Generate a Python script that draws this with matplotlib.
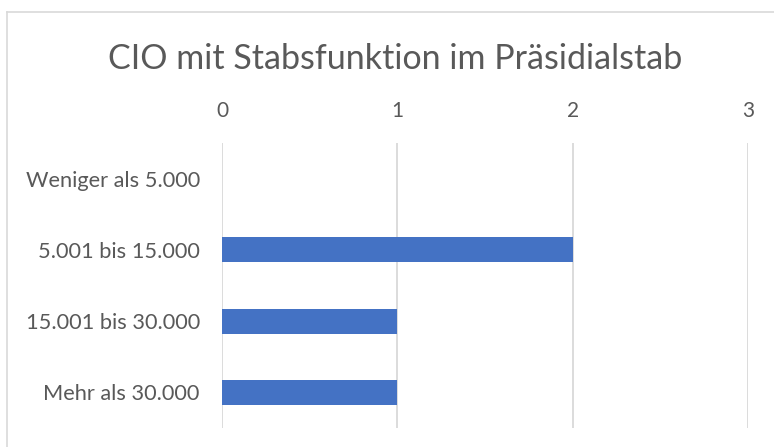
import matplotlib.pyplot as plt
from matplotlib.lines import Line2D

categories = ["Weniger als 5.000", "5.001 bis 15.000", "15.001 bis 30.000", "Mehr als 30.000"]
values = [0, 2, 1, 1]
xticks = [0, 1, 2, 3]

plt.rcParams["font.family"] = ["Lato", "DejaVu Sans"]
text_color = "#595959"
grid_color = "#D9D9D9"

fig = plt.figure(figsize=(7.74, 4.47), dpi=100)
ax = fig.add_axes([222 / 774, 1 - 428 / 447, 526 / 774, 285 / 447])

ypos = list(range(len(categories)))
ax.barh(ypos, values, height=0.35, color="#4472C4", linewidth=0, zorder=3)

ax.set_xlim(0, 3)
ax.set_ylim(len(categories) - 0.5, -0.5)
ax.set_xticks(xticks)
ax.set_xticklabels([str(t) for t in xticks])
ax.set_yticks(ypos)
ax.set_yticklabels(categories)
ax.xaxis.tick_top()
ax.tick_params(axis="x", length=0, pad=16, labelsize=15, labelcolor=text_color)
ax.tick_params(axis="y", length=0, pad=16, labelsize=15.7, labelcolor=text_color)
ax.grid(axis="x", color=grid_color, linewidth=1.3, zorder=0)
for s in ax.spines.values():
    s.set_visible(False)

fig.text(0.511, 1 - 59 / 447, "CIO mit Stabsfunktion im Präsidialstab",
         ha="center", va="center", fontsize=24.5, color=text_color)

# chart frame
fig.add_artist(Line2D([7 / 774, 1.0], [1 - 12 / 447] * 2, color=grid_color, linewidth=1.2,
                      transform=fig.transFigure))
fig.add_artist(Line2D([7 / 774] * 2, [0.0, 1 - 12 / 447], color=grid_color, linewidth=1.2,
                      transform=fig.transFigure))

plt.savefig("out.png", dpi=100)
